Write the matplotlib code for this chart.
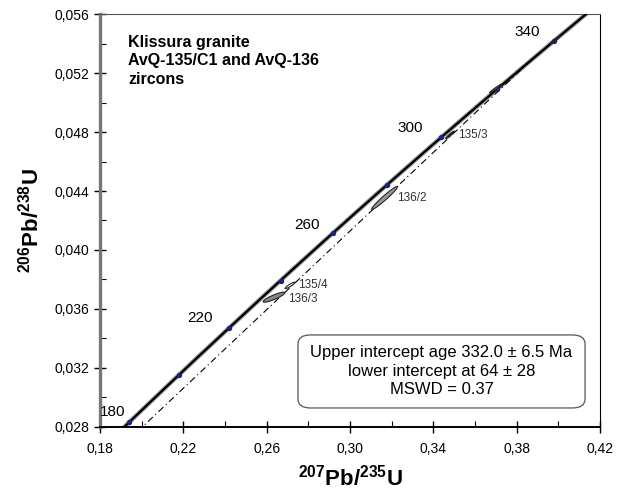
import numpy as np
import matplotlib
matplotlib.use("Agg")
import matplotlib.pyplot as plt
from matplotlib.patches import FancyBboxPatch
from matplotlib.ticker import MultipleLocator, FuncFormatter

plt.rcParams['font.family'] = ['Liberation Sans', 'DejaVu Sans']
plt.rcParams['mathtext.fontset'] = 'custom'
plt.rcParams['mathtext.rm'] = 'Liberation Sans'
plt.rcParams['mathtext.bf'] = 'Liberation Sans:bold'

# ------------------------------
# Datos
# ------------------------------
lam238 = 1.55125e-4   # 1/Ma
lam235 = 9.8485e-4    # 1/Ma

edad_ini, edad_fin = 170, 360
edades_marca = [180, 200, 220, 240, 260, 280, 300, 320, 340]
edades_texto = [180, 220, 260, 300, 340]
texto_x = [0.1862, 0.2280, 0.2794, 0.3288, 0.3850]
texto_y = [0.0290, 0.0354, 0.0417, 0.0483, 0.0548]

intercepto_inf = 64
intercepto_sup = 332.0

# elipses: nombre, x, y, 2s x, 2s y, rho, relleno
nombres = ["136/3", "135/4", "136/2", "135/3", "", ""]
cx = [0.2635, 0.2712, 0.3166, 0.3480, 0.3700, 0.3985]
cy = [0.0368, 0.0376, 0.04353, 0.0478, 0.05095, 0.05425]
sx = [0.0052, 0.0024, 0.0062, 0.0021, 0.0030, 0.0025]
sy = [0.00034, 0.00022, 0.00078, 0.00026, 0.00030, 0.00028]
rho = [0.88, 0.92, 0.97, 0.95, 0.97, 0.97]
relleno = ["#888888", "#ffffff", "#999999", "#222222", "#555555", "#333333"]
etiq_x = [0.2702, 0.2750, 0.3226, 0.3518, None, None]
etiq_y = [0.0367, 0.03765, 0.04353, 0.0478, None, None]

def concordia(t):
    return np.exp(lam235 * t) - 1, np.exp(lam238 * t) - 1

def elipse(x0, y0, ax_, ay_, r, n=100):
    th = np.linspace(0, 2 * np.pi, n)
    x = x0 + ax_ * np.cos(th)
    y = y0 + ay_ * (r * np.cos(th) + np.sqrt(1 - r ** 2) * np.sin(th))
    return x, y

# ------------------------------
# Figura
# ------------------------------
fig = plt.figure(figsize=(6.19, 4.90), dpi=100)
ax = fig.add_axes([0.1616, 0.1286, 0.8078, 0.8428])

t = np.linspace(edad_ini, edad_fin, 400)
cxx, cyy = concordia(t)
ax.plot(cxx, cyy, color="#999999", lw=3.2, zorder=2)
ax.plot(cxx, cyy, color="black", lw=1.6, zorder=3)

# discordia
x1, y1 = concordia(intercepto_inf)
x2, y2 = concordia(intercepto_sup)
ax.plot([x1, x2], [y1, y2], color="black", lw=0.8,
        linestyle=(0, (6, 3, 1, 3)), zorder=2)

# marcas de edad
mx, my = concordia(np.array(edades_marca))
ax.scatter(mx, my, s=8, color="#1a237e", zorder=4)

for e, tx, ty in zip(edades_texto, texto_x, texto_y):
    ax.text(tx, ty, str(e), fontsize=11, ha="center", va="center")

# elipses de datos
for i in range(len(cx)):
    ex, ey = elipse(cx[i], cy[i], sx[i], sy[i], rho[i])
    ax.fill(ex, ey, facecolor=relleno[i], edgecolor="#222222", lw=0.8, zorder=5)
    if nombres[i]:
        ax.text(etiq_x[i], etiq_y[i], nombres[i], fontsize=8.5, color="#333333",
                ha="left", va="center", zorder=6)

ax.text(0.1934, 0.0546, "Klissura granite\nAvQ-135/C1 and AvQ-136\nzircons",
        fontsize=11.5, fontweight="bold", ha="left", va="top", linespacing=1.3)

caja = FancyBboxPatch((0.2750, 0.02929), 0.1378, 0.00495,
                      boxstyle="round,pad=0,rounding_size=0.006",
                      mutation_aspect=0.1, facecolor="white",
                      edgecolor="#555555", lw=0.9, zorder=6)
ax.add_patch(caja)
ax.text(0.3439, 0.03177, "Upper intercept age 332.0 ± 6.5 Ma\nlower intercept at 64 ± 28\nMSWD = 0.37",
        fontsize=12, ha="center", va="center", linespacing=1.3, zorder=7)

ax.set_xlim(0.18, 0.42)
ax.set_ylim(0.028, 0.056)
ax.xaxis.set_major_locator(MultipleLocator(0.04, offset=0.02))
ax.xaxis.set_minor_locator(MultipleLocator(0.02))
ax.yaxis.set_major_locator(MultipleLocator(0.004))
ax.yaxis.set_minor_locator(MultipleLocator(0.002))
ax.xaxis.set_major_formatter(FuncFormatter(lambda v, p: f"{v:.2f}".replace(".", ",")))
ax.yaxis.set_major_formatter(FuncFormatter(lambda v, p: f"{v:.3f}".replace(".", ",")))
ax.tick_params(which="major", direction="inout", length=8, width=1, labelsize=10)
ax.tick_params(which="minor", direction="in", length=4, width=0.8)
ax.tick_params(axis="x", pad=7)

ax.spines["left"].set_linewidth(2.4)
ax.spines["left"].set_color("#777777")
ax.spines["bottom"].set_linewidth(1.4)
ax.spines["top"].set_color("#555555")
ax.spines["right"].set_linestyle((0, (1, 1)))

ax.set_xlabel(r"$\mathbf{^{207}Pb/^{235}U}$", fontsize=16, labelpad=6)
ax.set_ylabel(r"$\mathbf{^{206}Pb/^{238}U}$", fontsize=16, labelpad=8)

fig.savefig("out.png", dpi=100)
